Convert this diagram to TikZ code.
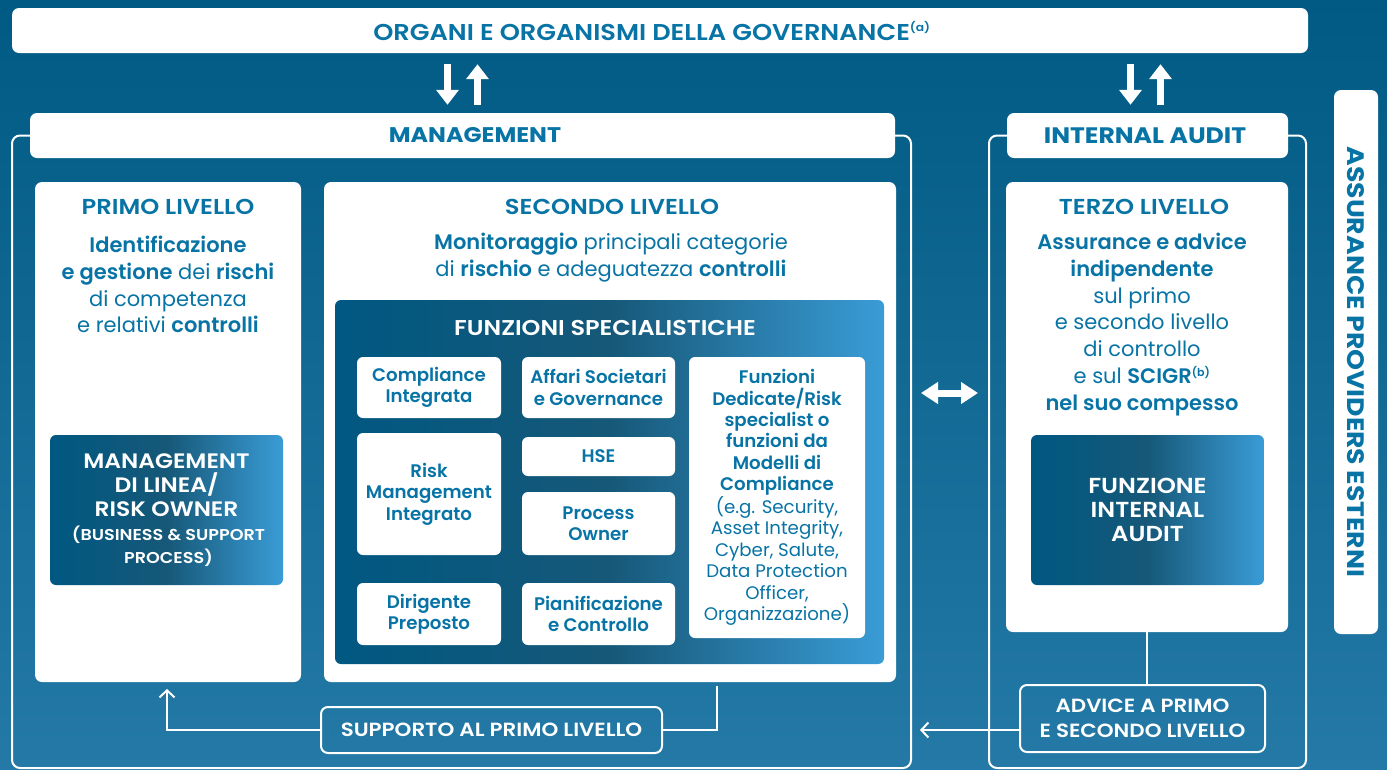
\documentclass[tikz,border=0pt]{standalone}
\usepackage{fontspec}
\setmainfont{Poppins}[BoldFont={Poppins SemiBold}]
\newfontfamily\capsfont{Poppins SemiBold}[FakeStretch=1.12]
\newfontfamily\heavyfont{Poppins Bold}[FakeStretch=1.12]
\usetikzlibrary{arrows.meta}
\definecolor{bgtop}{RGB}{0,90,131}
\definecolor{bgbot}{RGB}{36,121,166}
\definecolor{ink}{RGB}{8,116,166}
\definecolor{gradL}{RGB}{0,88,130}
\definecolor{gradM}{RGB}{22,88,120}
\definecolor{gradR}{RGB}{58,156,214}

\begin{document}
\begin{tikzpicture}[x=1pt,y=1pt,
    >={Straight Barb[length=7pt,width=15pt]},
    box/.style={fill=white, rounded corners=7pt, inner sep=0pt},
    gradbox/.style={left color=gradL, right color=gradR, middle color=gradM, rounded corners=6pt, inner sep=0pt, text=white, align=center},
    smallbox/.style={fill=white, rounded corners=6pt, inner sep=0pt, text=ink, align=center, font=\bfseries\fontsize{18.2}{21.4}\selectfont},
    lbox/.style={draw=white, line width=2pt, rounded corners=7pt, inner sep=0pt, text=white, align=center, font=\capsfont\fontsize{19.1}{24.5}\selectfont},
    title/.style={text=ink, font=\capsfont\fontsize{21.6}{24}\selectfont},
    heading/.style={text=ink, font=\heavyfont\fontsize{22.4}{24}\selectfont},
    body/.style={text=ink, align=center, font=\fontsize{21}{26.9}\selectfont},
    frame/.style={draw=white, line width=2pt, rounded corners=8pt},
    link/.style={draw=white, line width=2pt},
    bigarrow/.style={draw=white, line width=7pt, -{Triangle[width=22pt,length=15pt]}}]

    \useasboundingbox (0,0) rectangle (1387,-769);
    \shade[top color=bgtop, bottom color=bgbot] (0,0) rectangle (1387,-769);

    % governance and the two headers
    \node[box, minimum width=1296, minimum height=45] (gov) at (660,-30.5) {};
    \node[text=ink, font=\capsfont\fontsize{22.9}{24}\selectfont] at (652,-31) {ORGANI E ORGANISMI DELLA GOVERNANCE\textsuperscript{\fontsize{11}{12}\selectfont(a)}};
    \node[box, minimum width=865, minimum height=45] (mgmt) at (462.5,-135.5) {};
    \node[heading, font=\heavyfont\fontsize{21.2}{24}\selectfont] at (475,-135.5) {MANAGEMENT};
    \node[box, minimum width=281, minimum height=45] (audit) at (1147.5,-135.5) {};
    \node[heading] at (1145,-135.5) {INTERNAL AUDIT};

    \draw[frame] (mgmt.west) -- (12,-135.5) -- (12,-768) -- (911,-768) -- (911,-135.5) -- (mgmt.east);
    \draw[frame] (audit.west) -- (989,-135.5) -- (989,-768) -- (1306,-768) -- (1306,-135.5) -- (audit.east);

    \draw[bigarrow, shorten <=11pt, shorten >=8pt] ([xshift=-15]mgmt.north |- gov.south) -- ([xshift=-15]mgmt.north);
    \draw[bigarrow, shorten <=8pt, shorten >=11pt] ([xshift=15]mgmt.north) -- ([xshift=15]mgmt.north |- gov.south);
    \draw[bigarrow, shorten <=11pt, shorten >=8pt] ([xshift=-17]audit.north |- gov.south) -- ([xshift=-17]audit.north);
    \draw[bigarrow, shorten <=8pt, shorten >=11pt] ([xshift=13]audit.north) -- ([xshift=13]audit.north |- gov.south);

    % primo livello
    \node[box, minimum width=266, minimum height=500] (primo) at (168,-432) {};
    \node[title] at (168,-207) {PRIMO LIVELLO};
    \node[body] at (168,-284.5) {\textbf{Identificazione}\\ \textbf{e gestione} dei \textbf{rischi}\\ di competenza\\ e relativi \textbf{controlli}};
    \node[gradbox, minimum width=233, minimum height=150] (linea) at (166.5,-510) {};
    \node[text=white, align=center, font=\capsfont\fontsize{20.9}{24}\selectfont] at (166.5,-485) {MANAGEMENT\\ DI LINEA/\\ RISK OWNER};
    \node[text=white, align=center, font=\capsfont\fontsize{15.7}{23}\selectfont] at (168.5,-546.5) {(BUSINESS \& SUPPORT\\ PROCESS)};

    % secondo livello
    \node[box, minimum width=572, minimum height=500] (secondo) at (610,-432) {};
    \node[title] at (612,-207) {SECONDO LIVELLO};
    \node[body] at (611,-257.5) {\textbf{Monitoraggio} principali categorie\\ di \textbf{rischio} e adeguatezza \textbf{controlli}};
    \node[gradbox, minimum width=549, minimum height=364] (spec) at (609.5,-482) {};
    \node[text=white, font=\capsfont\fontsize{21.4}{24}\selectfont] at (605,-328) {FUNZIONI SPECIALISTICHE};
    \node[smallbox, minimum width=144, minimum height=61] (comp) at (429,-387.5) {Compliance\\ Integrata};
    \node[smallbox, minimum width=153, minimum height=61] (affari) at (598.5,-387.5) {Affari Societari\\ e Governance};
    \node[smallbox, minimum width=144, minimum height=122] (risk) at (429,-494) {Risk\\ Management\\ Integrato};
    \node[smallbox, minimum width=153, minimum height=39] (hse) at (598.5,-456.5) {HSE};
    \node[smallbox, minimum width=153, minimum height=63] (process) at (598.5,-523.5) {Process\\ Owner};
    \node[smallbox, minimum width=144, minimum height=62] (dirig) at (429,-614) {Dirigente\\ Preposto};
    \node[smallbox, minimum width=153, minimum height=62] (pianif) at (598.5,-614) {Pianificazione\\ e Controllo};
    \node[smallbox, minimum width=176, minimum height=281] (dedic) at (777,-497.5) {Funzioni\\ Dedicate/Risk\\ specialist o\\ funzioni da\\ Modelli di\\ Compliance\\ \mdseries (e.g. Security,\\ \mdseries Asset Integrity,\\ \mdseries Cyber, Salute,\\ \mdseries Data Protection\\ \mdseries Officer,\\ \mdseries Organizzazione)};

    % terzo livello
    \node[box, minimum width=282, minimum height=450] (terzo) at (1147,-407) {};
    \node[title] at (1144,-207) {TERZO LIVELLO};
    \node[body] at (1142,-324.5) {\textbf{Assurance e advice}\\ \textbf{indipendente}\\ sul primo\\ e secondo livello\\ di controllo\\ e sul \textbf{SCIGR\textsuperscript{\fontsize{11}{12}\selectfont(b)}}\\ \textbf{nel suo compesso}};
    \node[gradbox, minimum width=233, minimum height=150, font=\capsfont\fontsize{21.7}{24}\selectfont] (fia) at (1147.5,-510) {FUNZIONE\\ INTERNAL\\ AUDIT};

    \node[box, rotate=-90, minimum width=544, minimum height=44, text=ink, font=\heavyfont\fontsize{23.8}{24}\selectfont] (ape) at (1356,-362) {ASSURANCE PROVIDERS ESTERNI};

    % collegamenti
    \coordinate (mR) at (911,-393);
    \coordinate (aL) at (989,-393);
    \draw[draw=white, line width=7pt, {Triangle[width=21pt,length=17pt]}-{Triangle[width=21pt,length=17pt]}, shorten <=10pt, shorten >=11pt] (mR) -- (aL);

    \node[lbox, minimum width=341, minimum height=46] (supporto) at (491.5,-730) {SUPPORTO AL PRIMO LIVELLO};
    \coordinate (supR) at (717,-686);
    \coordinate (supL) at (167,-689);
    \draw[link] (supR) |- (supporto.east);
    \draw[link, ->] (supporto.west) -| (supL);

    \node[lbox, minimum width=245, minimum height=67] (advice) at (1142.5,-718.5) {ADVICE A PRIMO\\ E SECONDO LIVELLO};
    \coordinate (advL) at (920,-730);
    \draw[link] (terzo.south) -- (terzo.south |- advice.north);
    \draw[link, ->] ([yshift=-11.5]advice.west) -- (advL);
\end{tikzpicture}
\end{document}
